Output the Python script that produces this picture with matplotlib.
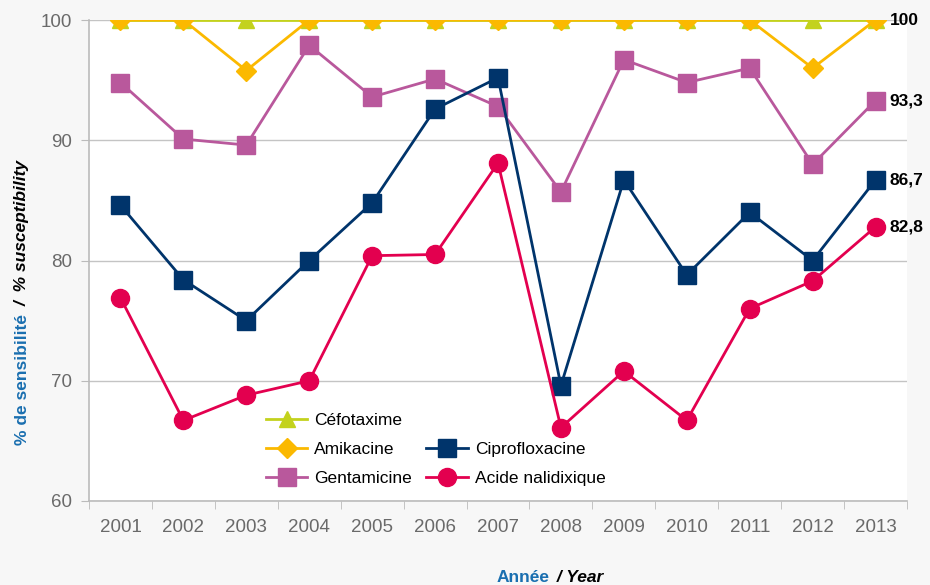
import matplotlib.pyplot as plt
import numpy as np
from matplotlib.lines import Line2D

plt.rcParams['font.family'] = ['Liberation Sans', 'DejaVu Sans']

years = ['2001', '2002', '2003', '2004', '2005', '2006', '2007',
         '2008', '2009', '2010', '2011', '2012', '2013']
cefotaxime = [100, 100, 100, 100, 100, 100, 100, 100, 100, 100, 100, 100, 100]
amikacine = [100, 100, 95.8, 100, 100, 100, 100, 100, 100, 100, 100, 96.0, 100]
gentamicine = [94.8, 90.1, 89.6, 97.9, 93.6, 95.1, 92.8, 85.7, 96.7, 94.8, 96.0, 88.0, 93.3]
ciprofloxacine = [84.6, 78.4, 75.0, 80.0, 84.8, 92.6, 95.2, 69.6, 86.7, 78.8, 84.0, 80.0, 86.7]
acide_nalidixique = [76.9, 66.7, 68.8, 70.0, 80.4, 80.5, 88.1, 66.1, 70.8, 66.7, 76.0, 78.3, 82.8]
end_labels = ['100', '93,3', '86,7', '82,8']

c_cefo = '#c3d21d'
c_amik = '#fbb900'
c_genta = '#b9589c'
c_cipro = '#00346b'
c_nalid = '#e3004f'

fig = plt.figure(figsize=(9.3, 5.85), dpi=100, facecolor='#f7f7f7')
ax = fig.add_axes([0.0957, 0.1436, 0.8796, 0.8222])
ax.set_facecolor('white')

x = np.arange(len(years))
lw = 2.0
l_cefo, = ax.plot(x, cefotaxime, color=c_cefo, lw=lw, marker='^', ms=11, zorder=3)
l_amik, = ax.plot(x, amikacine, color=c_amik, lw=lw, marker='D', ms=10, zorder=4)
l_genta, = ax.plot(x, gentamicine, color=c_genta, lw=lw, marker='s', ms=13, zorder=3)
l_cipro, = ax.plot(x, ciprofloxacine, color=c_cipro, lw=lw, marker='s', ms=13, zorder=3)
l_nalid, = ax.plot(x, acide_nalidixique, color=c_nalid, lw=lw, marker='o', ms=13, zorder=3)

last = [amikacine[-1], gentamicine[-1], ciprofloxacine[-1], acide_nalidixique[-1]]
for val, lab in zip(last, end_labels):
    ax.annotate(lab, (x[-1], val), xytext=(10, 0), textcoords='offset points',
                ha='left', va='center', fontsize=12.5, fontweight='bold',
                color='black', annotation_clip=False)

ax.set_xlim(-0.5, 12.5)
ax.set_ylim(60, 100)
ax.set_yticks([60, 70, 80, 90, 100])
ax.set_xticks(x)
ax.set_xticklabels(years)
ax.set_xticks(np.arange(-0.5, 13, 1), minor=True)
ax.tick_params(axis='x', which='major', length=0, pad=13, labelsize=13.5, labelcolor='#6a6a6a')
ax.tick_params(axis='x', which='minor', length=6, color='#bbbbbb', direction='out')
ax.tick_params(axis='y', length=6, color='#bbbbbb', labelsize=13.5, labelcolor='#6a6a6a', pad=6)
ax.grid(axis='y', color='#c4c4c4', lw=1)
ax.set_axisbelow(True)
for s in ['top', 'right']:
    ax.spines[s].set_visible(False)
for s in ['left', 'bottom']:
    ax.spines[s].set_color('#bbbbbb')
    ax.spines[s].set_linewidth(1.2)

blank = Line2D([], [], color='none')
leg = ax.legend([l_cefo, l_amik, l_genta, blank, l_cipro, l_nalid],
                ['Céfotaxime', 'Amikacine', 'Gentamicine', '', 'Ciprofloxacine', 'Acide nalidixique'],
                ncol=2, frameon=False, loc='upper left', bbox_to_anchor=(0.197, 0.215),
                fontsize=12.5, handlelength=2.4, handletextpad=0.4, columnspacing=0.8,
                labelspacing=0.8)

# y axis title (two colours)
fig.text(0.024, 1 - 314 / 585, '% de sensibilité', rotation=90, ha='center', va='top',
         fontsize=12.5, fontweight='bold', color='#1a6fb0')
fig.text(0.024, 1 - 306 / 585, '/  % susceptibility', rotation=90, ha='center', va='bottom',
         fontsize=12.5, fontweight='bold', style='italic', color='black')

# x axis title (two colours)
fig.text(550 / 930, 1 - 577 / 585, 'Année', ha='right', va='center',
         fontsize=12.5, fontweight='bold', color='#1a6fb0')
fig.text(552 / 930, 1 - 577 / 585, ' / Year', ha='left', va='center',
         fontsize=12.5, fontweight='bold', style='italic', color='black')

fig.savefig('out.png', dpi=100, facecolor=fig.get_facecolor())
